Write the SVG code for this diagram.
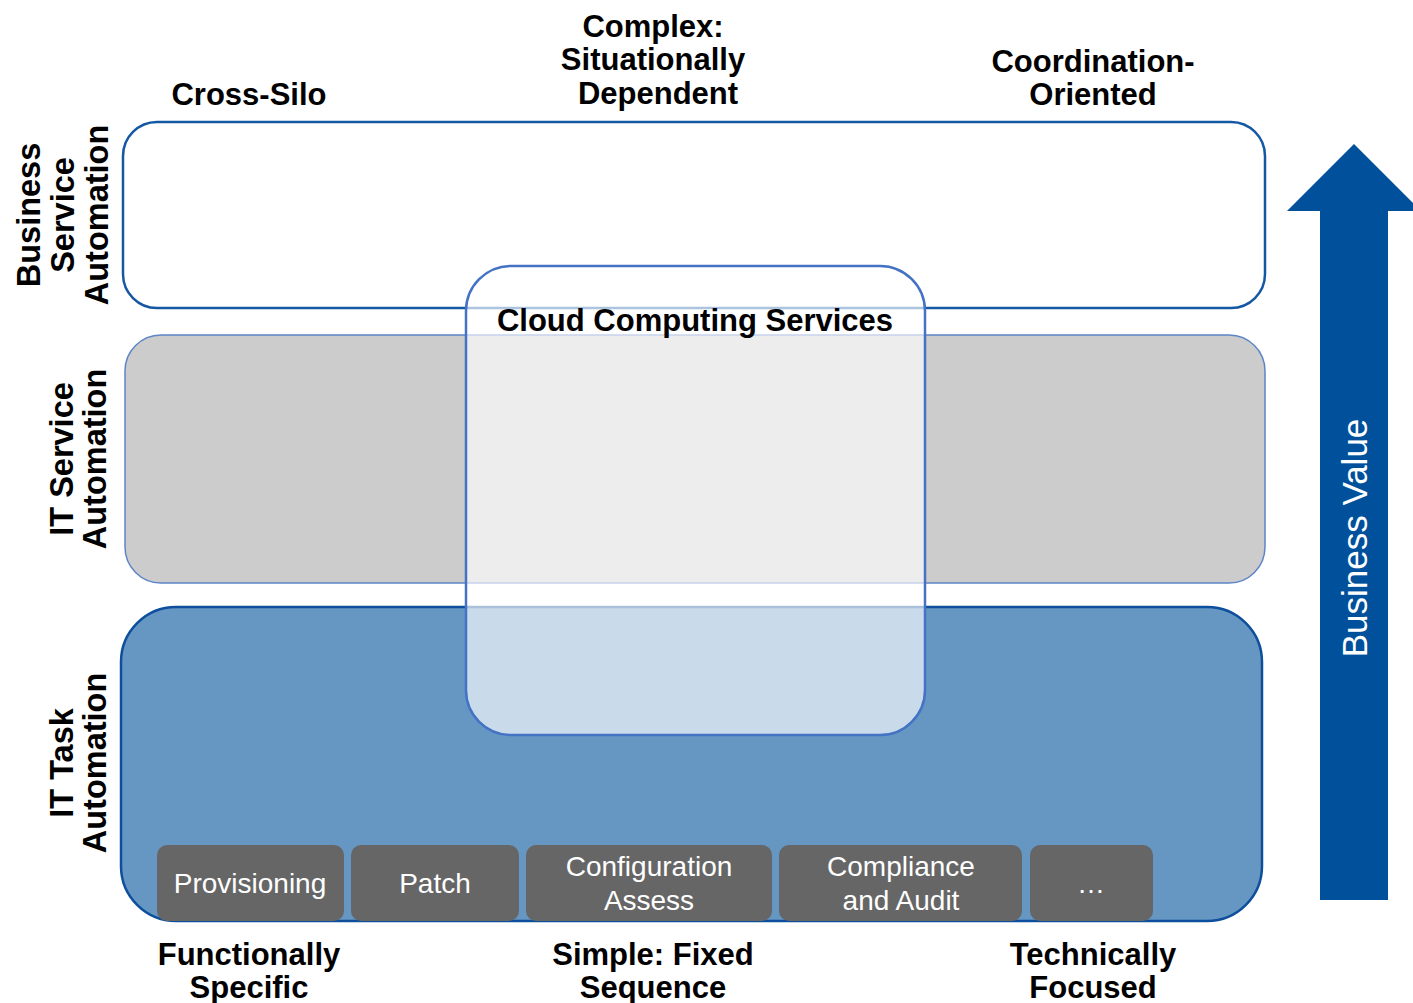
<svg xmlns="http://www.w3.org/2000/svg" width="1413" height="1003" viewBox="0 0 1413 1003">
  <style>
    .lbl { font-family: "Liberation Sans", Arial, sans-serif; font-weight: bold; font-size: 31px; fill: #000; text-anchor: middle; }
    .side { font-family: "Liberation Sans", Arial, sans-serif; font-weight: bold; font-size: 32.5px; fill: #000; text-anchor: middle; }
    .task { fill: #666666; }
    .tasktxt { font-family: "Liberation Sans", Arial, sans-serif; font-size: 28px; fill: #fff; text-anchor: middle; }
  </style>
  <rect width="1413" height="1003" fill="#ffffff"/>

  <!-- axis labels -->
  <g id="axis-top">
    <text class="lbl" x="249" y="105">Cross-Silo</text>
    <text class="lbl" x="653" y="37">Complex:</text>
    <text class="lbl" x="653" y="70">Situationally</text>
    <text class="lbl" x="658" y="104">Dependent</text>
    <text class="lbl" x="1093" y="72">Coordination-</text>
    <text class="lbl" x="1093" y="105">Oriented</text>
  </g>
  <g id="axis-bottom">
    <text class="lbl" x="249" y="965">Functionally</text>
    <text class="lbl" x="249" y="998">Specific</text>
    <text class="lbl" x="653" y="965">Simple: Fixed</text>
    <text class="lbl" x="653" y="998">Sequence</text>
    <text class="lbl" x="1093" y="965">Technically</text>
    <text class="lbl" x="1093" y="998">Focused</text>
  </g>

  <!-- layer bands -->
  <g id="business-service">
    <rect x="123" y="122" width="1142" height="186" rx="34" fill="#ffffff" stroke="#1458a3" stroke-width="2.5"/>
    <g transform="translate(0,215) rotate(-90)">
      <text class="side" x="0" y="40">Business</text>
      <text class="side" x="0" y="74">Service</text>
      <text class="side" x="0" y="108">Automation</text>
    </g>
  </g>
  <g id="it-service">
    <rect x="125" y="335" width="1140" height="248" rx="36" fill="#cccccc" stroke="#5d84c6" stroke-width="1.5"/>
    <g transform="translate(0,459) rotate(-90)">
      <text class="side" x="0" y="73">IT Service</text>
      <text class="side" x="0" y="106">Automation</text>
    </g>
  </g>
  <g id="it-task">
    <rect x="121" y="607" width="1141" height="314" rx="55" fill="#6697c3" stroke="#0d4f9c" stroke-width="2.5"/>
    <g transform="translate(0,763) rotate(-90)">
      <text class="side" x="0" y="73">IT Task</text>
      <text class="side" x="0" y="106">Automation</text>
    </g>
  </g>

  <!-- task tiles -->
  <g id="task-provisioning">
    <rect class="task" x="157" y="845" width="187" height="76" rx="10"/>
    <text class="tasktxt" x="250" y="893">Provisioning</text>
  </g>
  <g id="task-patch">
    <rect class="task" x="351" y="845" width="168" height="76" rx="10"/>
    <text class="tasktxt" x="435" y="893">Patch</text>
  </g>
  <g id="task-configuration">
    <rect class="task" x="526" y="845" width="246" height="76" rx="10"/>
    <text class="tasktxt" x="649" y="876">Configuration</text>
    <text class="tasktxt" x="649" y="910">Assess</text>
  </g>
  <g id="task-compliance">
    <rect class="task" x="779" y="845" width="243" height="76" rx="10"/>
    <text class="tasktxt" x="901" y="876">Compliance</text>
    <text class="tasktxt" x="901" y="910">and Audit</text>
  </g>
  <g id="task-more">
    <rect class="task" x="1030" y="845" width="123" height="76" rx="10"/>
    <text class="tasktxt" x="1091" y="893">…</text>
  </g>

  <!-- translucent overlay spanning the layers -->
  <g id="cloud-services">
    <rect x="466" y="266" width="459" height="469" rx="45" fill="#ffffff" fill-opacity="0.65" stroke="#4472c4" stroke-width="2.5"/>
    <text class="lbl" x="695" y="331">Cloud Computing Services</text>
  </g>

  <!-- value arrow -->
  <g id="business-value">
    <polygon points="1354,144 1421,211 1388,211 1388,900 1320,900 1320,211 1287,211" fill="#00509b"/>
    <text transform="translate(1367,538) rotate(-90)" x="0" y="0" font-family="Liberation Sans, Arial, sans-serif" font-size="35" fill="#ffffff" text-anchor="middle">Business Value</text>
  </g>
</svg>
